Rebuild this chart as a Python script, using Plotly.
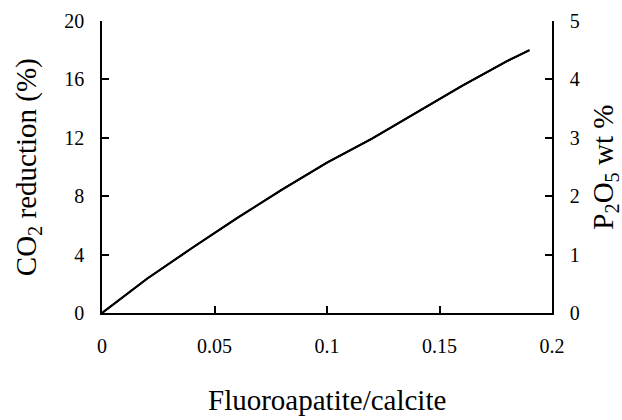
import plotly.graph_objects as go

# Data
ratio = [0, 0.02, 0.04, 0.06, 0.08, 0.10, 0.12, 0.14, 0.16, 0.18, 0.19]
co2_reduction = [0, 2.35, 4.45, 6.5, 8.45, 10.3, 11.95, 13.75, 15.55, 17.25, 18.0]
p2o5_wt = [v / 4 for v in co2_reduction]

x_ticks = [0, 0.05, 0.1, 0.15, 0.2]
x_tick_labels = ["0", "0.05", "0.1", "0.15", "0.2"]
y_ticks = [0, 4, 8, 12, 16, 20]
y2_ticks = [0, 1, 2, 3, 4, 5]

FONT = "Liberation Serif, Times New Roman, serif"

fig = go.Figure()
fig.add_trace(go.Scatter(x=ratio, y=co2_reduction, mode="lines",
                         line=dict(color="black", width=2), showlegend=False,
                         hoverinfo="skip"))
fig.add_trace(go.Scatter(x=ratio, y=p2o5_wt, mode="lines", yaxis="y2",
                         line=dict(color="black", width=2), showlegend=False,
                         hoverinfo="skip"))

axis_common = dict(showgrid=False, zeroline=False, showline=True,
                   linecolor="black", linewidth=1.5, ticks="inside",
                   ticklen=7, tickwidth=1.5, tickcolor="black",
                   tickfont=dict(family=FONT, size=20, color="black"))

fig.update_layout(
    width=622, height=420,
    margin=dict(l=102, r=70, t=21, b=107, autoexpand=False),
    paper_bgcolor="white", plot_bgcolor="white",
    xaxis=dict(range=[0, 0.2], tickvals=x_ticks, ticktext=x_tick_labels,
               ticklabelstandoff=14, **axis_common),
    yaxis=dict(range=[0, 20], tickvals=y_ticks, ticklabelstandoff=12,
               **axis_common),
    yaxis2=dict(range=[0, 5], tickvals=y2_ticks, overlaying="y", side="right",
                ticklabelstandoff=12, **axis_common),
    annotations=[
        dict(text="CO<sub>2</sub> reduction (%)", xref="paper", yref="paper",
             x=-0.164, y=0.5, xanchor="center", yanchor="middle",
             textangle=-90, showarrow=False,
             font=dict(family=FONT, size=29, color="black")),
        dict(text="P<sub>2</sub>O<sub>5</sub> wt %", xref="paper", yref="paper",
             x=1.117, y=0.5, xanchor="center", yanchor="middle",
             textangle=-90, showarrow=False,
             font=dict(family=FONT, size=29, color="black")),
        dict(text="Fluoroapatite/calcite", xref="paper", yref="paper",
             x=0.5, y=-0.298, xanchor="center", yanchor="middle",
             showarrow=False,
             font=dict(family=FONT, size=29, color="black")),
    ],
)

fig.write_html("out.html", config={"displayModeBar": False},
               post_script="document.body.style.margin='0px';")
